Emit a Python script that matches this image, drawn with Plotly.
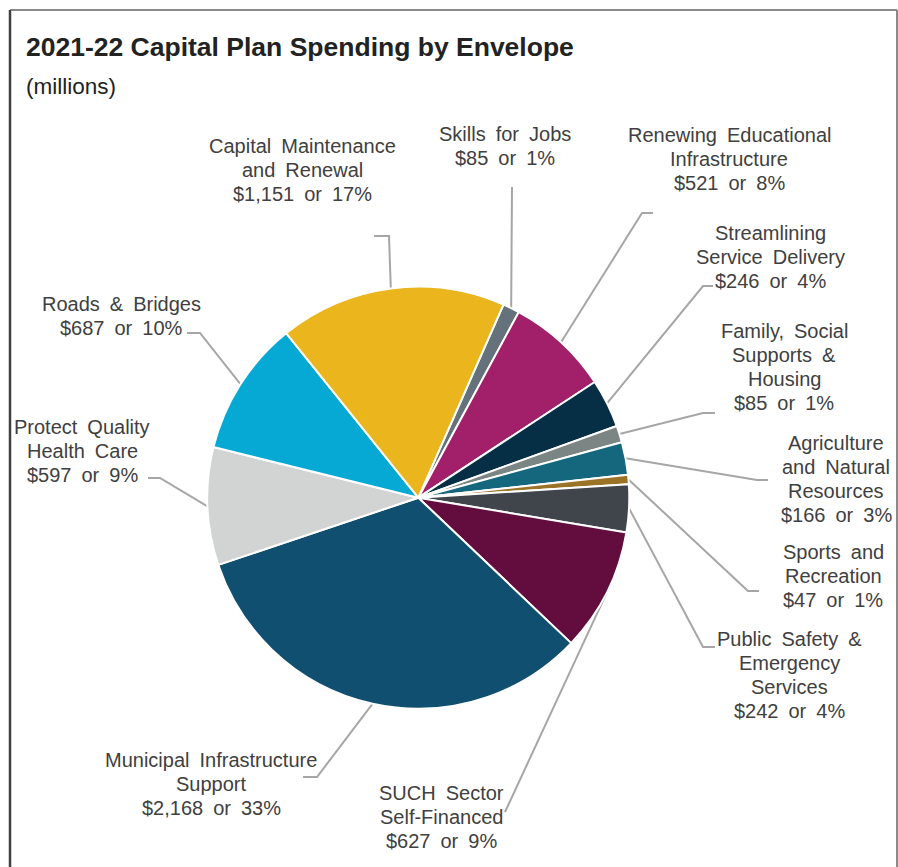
import math
import plotly.graph_objects as go

# ---- data -------------------------------------------------------------
categories = [
    "Skills for Jobs",
    "Renewing Educational Infrastructure",
    "Streamlining Service Delivery",
    "Family, Social Supports & Housing",
    "Agriculture and Natural Resources",
    "Sports and Recreation",
    "Public Safety & Emergency Services",
    "SUCH Sector Self-Financed",
    "Municipal Infrastructure Support",
    "Protect Quality Health Care",
    "Roads & Bridges",
    "Capital Maintenance and Renewal",
]
values = [85, 521, 246, 85, 166, 47, 242, 627, 2168, 597, 687, 1151]
label_lines = [
    ["Skills for Jobs"],
    ["Renewing Educational", "Infrastructure"],
    ["Streamlining", "Service Delivery"],
    ["Family, Social", "Supports &", "Housing"],
    ["Agriculture", "and Natural", "Resources"],
    ["Sports and", "Recreation"],
    ["Public Safety &", "Emergency", "Services"],
    ["SUCH Sector", "Self-Financed"],
    ["Municipal Infrastructure", "Support"],
    ["Protect Quality", "Health Care"],
    ["Roads & Bridges"],
    ["Capital Maintenance", "and Renewal"],
]
colors = [
    "#66727b", "#a21f6a", "#062e45", "#7b8583", "#15677e", "#9a7327",
    "#40454c", "#630d3e", "#114f71", "#d2d3d3", "#06a9d3", "#ebb51e",
]

# ---- layout (pixels) ----------------------------------------------------
W, H = 898, 867
CX, CY, R = 418.3, 497.7, 211.0
ROTATION = 23.8  # degrees clockwise from 12 o'clock where the first slice starts
LINE_STEP = 24   # vertical distance between label lines

# label block centre, leader elbow, leader end (pixel coordinates)
label_pos = [
    (505, 146), (729, 159), (770, 257), (784, 367), (836, 479), (833, 576),
    (789, 675), (441, 817), (211, 784), (82, 451), (121, 316), (302, 170),
]
leader_pts = [
    [(512, 187)],
    [(642, 213), (653, 213)],
    [(703, 286), (713, 286)],
    [(703, 413), (715, 413)],
    [(757, 480), (768, 480)],
    [(748, 591), (759, 591)],
    [(703, 647), (715, 647)],
    [(505, 812)],
    [(317, 777), (303, 777)],
    [(160, 478), (148, 478)],
    [(200, 333), (187, 333)],
    [(389, 236), (374, 236)],
]

FONT = "Liberation Sans, Arial, sans-serif"
TEXT_COLOR = "#404040"
LINE_COLOR = "#a6a6a6"
WIDE_SPACE = "\u2002"

total = sum(values)

fig = go.Figure()

fig.add_trace(go.Pie(
    labels=categories,
    values=values,
    sort=False,
    direction="clockwise",
    rotation=ROTATION,
    textinfo="none",
    hoverinfo="label+value+percent",
    marker=dict(colors=colors, line=dict(color="white", width=2)),
    domain=dict(x=[(CX - R) / W, (CX + R) / W],
                y=[(H - CY - R) / H, (H - CY + R) / H]),
    showlegend=False,
))

# leader lines start at the middle of each slice's outer edge
cum = 0.0
for i, v in enumerate(values):
    mid = math.radians(ROTATION + (cum + v / 2) / total * 360)
    cum += v
    ax = CX + R * math.sin(mid)
    ay = CY - R * math.cos(mid)
    pts = [(ax, ay)] + leader_pts[i]
    fig.add_trace(go.Scatter(
        x=[p[0] for p in pts], y=[p[1] for p in pts],
        mode="lines", line=dict(color=LINE_COLOR, width=2),
        hoverinfo="skip", showlegend=False, xaxis="x", yaxis="y",
    ))
    pct = round(v / total * 100)
    lines = label_lines[i] + [f"${v:,} or {pct}%"]
    n = len(lines)
    lx, ly = label_pos[i]
    for k, line in enumerate(lines):
        fig.add_annotation(
            x=lx, y=ly + (k - (n - 1) / 2) * LINE_STEP, xref="x", yref="y",
            text=line.replace(" ", WIDE_SPACE),
            showarrow=False, align="center", xanchor="center", yanchor="middle",
            font=dict(family=FONT, size=20, color=TEXT_COLOR),
        )

# title and unit
fig.add_annotation(
    x=24, y=47, xref="x", yref="y", xanchor="left", yanchor="middle",
    text="<b>2021-22 Capital Plan Spending by Envelope</b>", showarrow=False,
    font=dict(family=FONT, size=26.5, color="#222222"),
)
fig.add_annotation(
    x=24, y=86, xref="x", yref="y", xanchor="left", yanchor="middle",
    text="(millions)", showarrow=False,
    font=dict(family=FONT, size=22.5, color="#222222"),
)

# frame
fig.add_shape(type="line", x0=10, y0=10, x1=897, y1=10, xref="x", yref="y",
              line=dict(color="#8a8a8a", width=2))
fig.add_shape(type="line", x0=897, y0=10, x1=897, y1=870, xref="x", yref="y",
              line=dict(color="#8a8a8a", width=2))
fig.add_shape(type="line", x0=10, y0=10, x1=10, y1=870, xref="x", yref="y",
              line=dict(color="#404040", width=2.5))

fig.update_layout(
    width=W, height=H,
    margin=dict(l=0, r=0, t=0, b=0),
    paper_bgcolor="white", plot_bgcolor="rgba(0,0,0,0)",
    xaxis=dict(range=[0, W], visible=False, domain=[0, 1], fixedrange=True),
    yaxis=dict(range=[H, 0], visible=False, domain=[0, 1], fixedrange=True),
)

fig.write_html("out.html")
